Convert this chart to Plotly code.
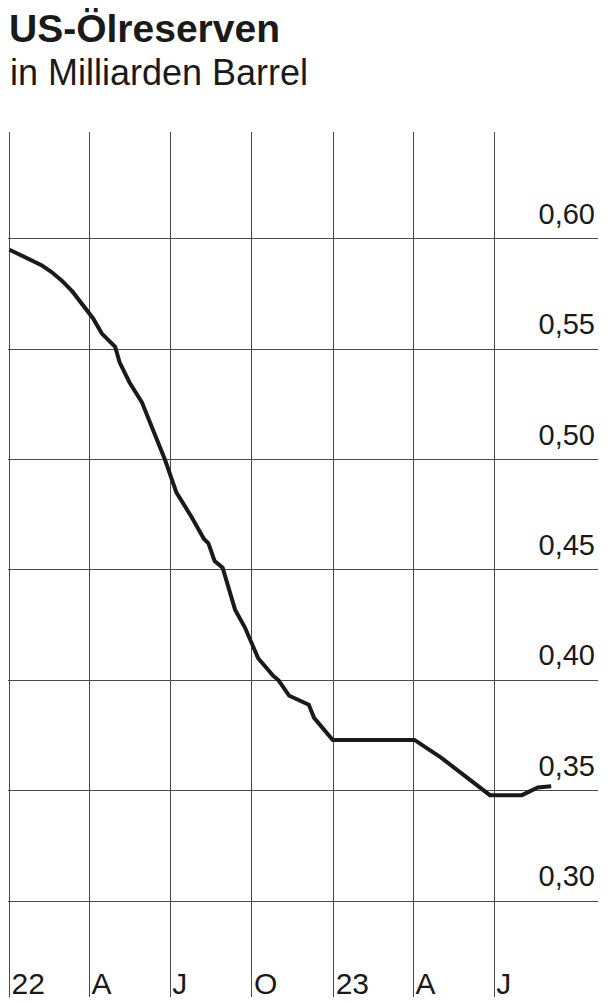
"""
US-Ölreserven (Strategic Petroleum Reserve) chart
"""

import plotly.graph_objects as go

# Datenpunkte
dates = [
    '2022-01-01', '2022-01-12', '2022-01-28', '2022-02-06', '2022-02-17',
    '2022-03-01', '2022-03-13', '2022-03-27', '2022-04-05', '2022-04-15',
    '2022-04-30', '2022-05-05', '2022-05-16', '2022-05-30', '2022-06-12',
    '2022-06-25', '2022-07-08', '2022-07-25', '2022-08-08', '2022-08-13',
    '2022-08-20', '2022-08-29', '2022-09-12', '2022-09-23', '2022-10-08',
    '2022-10-25', '2022-10-31', '2022-11-12', '2022-12-04', '2022-12-10',
    '2022-12-31', '2023-04-02', '2023-05-02', '2023-06-26', '2023-08-01',
    '2023-08-19', '2023-09-03',
]
reserves = [
    0.595, 0.593, 0.590, 0.588, 0.585,
    0.581, 0.576, 0.569, 0.564, 0.557,
    0.551, 0.544, 0.535, 0.526, 0.513,
    0.500, 0.485, 0.474, 0.464, 0.462,
    0.454, 0.451, 0.432, 0.424, 0.410,
    0.402, 0.400, 0.393, 0.389, 0.383,
    0.373, 0.373, 0.365, 0.348, 0.348,
    0.3515, 0.352,
]

# Achsenbeschriftungen
x_tickvals = ['2022-01-01', '2022-04-01', '2022-07-01', '2022-10-01',
              '2023-01-01', '2023-04-01', '2023-07-01']
x_ticktext = ['22', 'A', 'J', 'O', '23', 'A', 'J']
y_tickvals = [0.30, 0.35, 0.40, 0.45, 0.50, 0.55, 0.60]

FONT = 'Liberation Sans, Arial, sans-serif'
GRID = '#4a4a4a'

# die Seite hat 8px Rand, daher Breite/Höhe entsprechend kleiner
W, H = 599, 996

fig = go.Figure()

fig.add_trace(go.Scatter(
    x=dates,
    y=reserves,
    mode='lines',
    line=dict(color='#1a1a1a', width=4),
    hoverinfo='skip',
    showlegend=False
))

fig.update_layout(
    width=W,
    height=H,
    plot_bgcolor='white',
    paper_bgcolor='white',
    separators=',.',
    margin=dict(l=0, r=9, t=124, b=7, pad=0),
    font=dict(family=FONT, color='#1a1a1a'),
    title=dict(
        text='<b>US-Ölreserven</b>',
        font=dict(family=FONT, size=39, color='#1a1a1a'),
        x=1 / W,
        xanchor='left',
        xref='container',
        y=1 - 20 / H,
        yanchor='middle',
        yref='container'
    ),
    annotations=[dict(
        text='in Milliarden Barrel',
        xref='paper', yref='paper',
        x=0, y=1 + (132 - 72.5) / 865,
        xanchor='left', yanchor='middle',
        showarrow=False,
        font=dict(family=FONT, size=36, color='#1a1a1a')
    )],
    xaxis=dict(
        type='date',
        # Start knapp vor dem 1.1., damit die linke Gitterlinie sichtbar bleibt
        range=['2021-12-30 07:30', '2023-10-25 17:00'],
        tickvals=x_tickvals,
        ticktext=x_ticktext,
        ticklabelposition='inside right',
        ticklabelshift=2,
        ticklabelstandoff=-9,
        tickfont=dict(family=FONT, size=30, color='#1a1a1a'),
        showgrid=True,
        gridcolor=GRID,
        gridwidth=1,
        ticks='',
        showline=False,
        zeroline=False,
        fixedrange=True
    ),
    yaxis=dict(
        range=[0.2566, 0.6483],
        side='right',
        tickvals=y_tickvals,
        tickformat='.2f',
        ticklabelposition='inside',
        ticklabelshift=-25,
        ticklabelstandoff=0,
        tickfont=dict(family=FONT, size=29, color='#1a1a1a'),
        showgrid=True,
        gridcolor=GRID,
        gridwidth=1,
        ticks='',
        showline=False,
        zeroline=False,
        fixedrange=True
    )
)

fig.write_html('out.html')
